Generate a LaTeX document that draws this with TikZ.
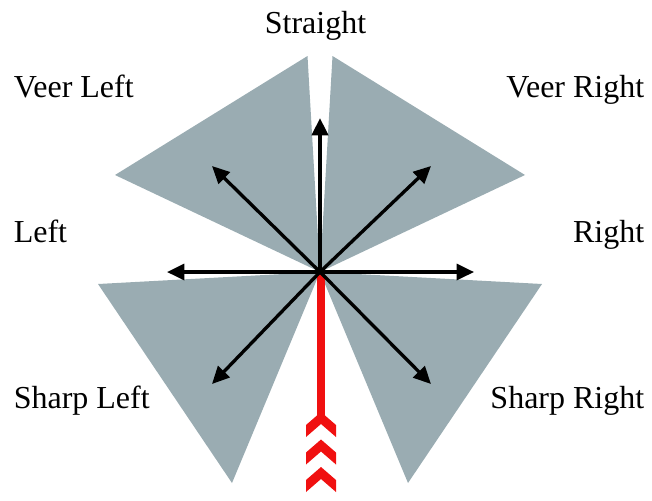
\documentclass[tikz,border=0pt]{standalone}
\usepackage{fontspec}
\setmainfont{Liberation Serif}
\usetikzlibrary{arrows.meta}
\definecolor{wedge}{RGB}{154,172,178}
\definecolor{redarrow}{RGB}{240,16,16}
\tikzset{
  wedgefill/.style={fill=wedge, draw=none},
  dirarrow/.style={draw=black, line width=2.5pt, -{Triangle[length=13pt,width=12pt]}},
  lbl/.style={inner sep=0pt, font=\fontsize{24}{28}\selectfont},
  chev/.style={fill=redarrow, draw=none},
}
\begin{document}
\begin{tikzpicture}[x=0.75pt,y=-0.75pt]
\useasboundingbox (0,0) rectangle (652,500);
% centre and wedge corners
\coordinate (c) at (320,272);
\coordinate (vlA) at (307.5,56);
\coordinate (vlB) at (115,175);
\coordinate (vrA) at (332.5,56);
\coordinate (vrB) at (525,175);
\coordinate (slA) at (98,284);
\coordinate (slB) at (232,483);
\coordinate (srA) at (542,284);
\coordinate (srB) at (408,483);
% wedges
\fill[wedgefill] (c) -- (vlA) -- (vlB) -- cycle;
\fill[wedgefill] (c) -- (vrA) -- (vrB) -- cycle;
\fill[wedgefill] (c) -- (slA) -- (slB) -- cycle;
\fill[wedgefill] (c) -- (srA) -- (srB) -- cycle;
% arrow tips
\coordinate (tS) at (320,118);
\coordinate (tL) at (167,272);
\coordinate (tR) at (474,272);
\coordinate (tVL) at (212,166);
\coordinate (tVR) at (431,166);
\coordinate (tSL) at (212,384);
\coordinate (tSR) at (431,384);
% red shaft and chevrons
\coordinate (rb) at (321,420);
\draw[redarrow, line width=5.3pt] (321,272) -- (rb);
\foreach \y in {412,439.5,467}{
  \fill[chev] (321,\y) -- (336,\y+13) -- (336,\y+25) -- (321,\y+12) -- (306,\y+25) -- (306,\y+13) -- cycle;
}
% direction arrows
\draw[dirarrow, line width=3pt] (c) -- (tS);
\draw[dirarrow] (c) -- (tL);
\draw[dirarrow] (c) -- (tR);
\draw[dirarrow] (c) -- (tVL);
\draw[dirarrow] (c) -- (tVR);
\draw[dirarrow] (c) -- (tSL);
\draw[dirarrow] (c) -- (tSR);
% labels
\node[lbl, anchor=base] (straight) at (315.5,33) {Straight};
\node[lbl, anchor=base west] (veerleft) at (13.5,97) {Veer Left};
\node[lbl, anchor=base east] (veerright) at (644.5,97) {Veer Right};
\node[lbl, anchor=base west] (left) at (13.5,242) {Left};
\node[lbl, anchor=base east] (right) at (644.5,242) {Right};
\node[lbl, anchor=base west] (sharpleft) at (13.5,408.5) {Sharp Left};
\node[lbl, anchor=base east] (sharpright) at (644.5,408.5) {Sharp Right};
\end{tikzpicture}
\end{document}
